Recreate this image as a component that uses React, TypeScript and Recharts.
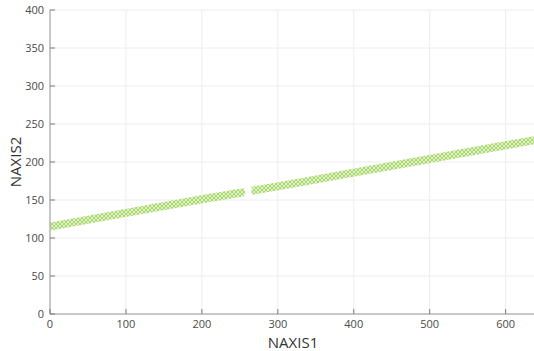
import React from 'react'
import {
  ComposedChart,
  Line,
  Scatter,
  XAxis,
  YAxis,
  CartesianGrid,
} from 'recharts'

// band of points, split around the small gap
const leftSegX = [0, 100, 200, 257]
const leftSegY = [115, 133, 151, 160.5]
const rightSegX = [265, 300, 400, 500, 600, 640]
const rightSegY = [162, 168, 186, 204, 222, 229]
const markX = [261]
const markY = [160.5]

const xTicks = [0, 100, 200, 300, 400, 500, 600]
const yTicks = [0, 50, 100, 150, 200, 250, 300, 350, 400]

const toRows = (xs: number[], ys: number[]) => xs.map((x, i) => ({ x, y: ys[i] }))
const leftSeg = toRows(leftSegX, leftSegY)
const rightSeg = toRows(rightSegX, rightSegY)
const marks = toRows(markX, markY)

const tickColor = '#7a7a7a'
const labelColor = '#4a4a4a'
const font = '"Open Sans", "Noto Sans", sans-serif'

const BottomTick = ({ x, y, payload }: any) => (
  <g>
    <line x1={x} y1={y} x2={x} y2={y - 5} stroke={tickColor} />
    <text x={x} y={y + 14} textAnchor="middle" fill={labelColor} fontSize={11} fontFamily={font}>
      {payload.value}
    </text>
  </g>
)

const TopTick = ({ x, y }: any) => (
  <line x1={x} y1={y} x2={x} y2={y + 5} stroke={tickColor} />
)

const LeftTick = ({ x, y, payload }: any) => (
  <g>
    <line x1={x} y1={y} x2={x + 5} y2={y} stroke={tickColor} />
    <text x={x - 6} y={y + 4} textAnchor="end" fill={labelColor} fontSize={11} fontFamily={font}>
      {payload.value}
    </text>
  </g>
)

const RightTick = ({ x, y }: any) => (
  <line x1={x} y1={y} x2={x - 5} y2={y} stroke={tickColor} />
)

const WhiteCross = ({ cx, cy }: any) => (
  <path
    d={`M${cx - 4},${cy - 4} L${cx + 4},${cy + 4} M${cx + 4},${cy - 4} L${cx - 4},${cy + 4}`}
    stroke="#ffffff"
    strokeWidth={1.5}
  />
)

export default function App() {
  return (
    <div
      style={{
        position: 'absolute',
        left: 0,
        top: 0,
        width: 534,
        height: 351,
        overflow: 'hidden',
        background: '#fff',
      }}
    >
      <ComposedChart width={536} height={351} margin={{ top: 10, right: 0, bottom: 0, left: 0 }}>
        <defs>
          <pattern id="xmarks" width="4" height="4" patternUnits="userSpaceOnUse">
            <rect width="4" height="4" fill="#e0f1ca" />
            <path d="M0,0 L4,4 M4,0 L0,4" stroke="#aad86e" strokeWidth={1} />
          </pattern>
        </defs>
        <CartesianGrid stroke="#ececec" />
        <XAxis
          type="number"
          dataKey="x"
          domain={[0, 640]}
          ticks={xTicks}
          height={37}
          tickSize={0}
          tickMargin={0}
          tickLine={false}
          stroke="#9a9a9a"
          tick={<BottomTick />}
          label={{
            value: 'NAXIS1',
            position: 'insideBottom',
            offset: 3,
            fill: '#333',
            fontSize: 15,
            fontFamily: font,
          }}
        />
        <XAxis
          xAxisId="top"
          orientation="top"
          type="number"
          dataKey="x"
          domain={[0, 640]}
          ticks={xTicks}
          height={0}
          tickSize={0}
          tickMargin={0}
          tickLine={false}
          stroke="#9a9a9a"
          tick={<TopTick />}
        />
        <YAxis
          type="number"
          domain={[0, 400]}
          ticks={yTicks}
          width={50}
          tickSize={0}
          tickMargin={0}
          tickLine={false}
          stroke="#9a9a9a"
          tick={<LeftTick />}
          label={{
            content: ({ viewBox }: any) => (
              <text
                x={15}
                y={viewBox.y + viewBox.height / 2}
                transform={`rotate(-90 15 ${viewBox.y + viewBox.height / 2})`}
                textAnchor="middle"
                dominantBaseline="central"
                fill="#333"
                fontSize={15}
                fontFamily={font}
              >
                NAXIS2
              </text>
            ),
          }}
        />
        <YAxis
          yAxisId="right"
          orientation="right"
          type="number"
          domain={[0, 400]}
          ticks={yTicks}
          width={0}
          tickSize={0}
          tickMargin={0}
          tickLine={false}
          stroke="#9a9a9a"
          tick={<RightTick />}
        />
        <Line
          data={leftSeg}
          dataKey="y"
          stroke="url(#xmarks)"
          strokeWidth={8}
          dot={false}
          activeDot={false}
          isAnimationActive={false}
        />
        <Line
          data={rightSeg}
          dataKey="y"
          stroke="url(#xmarks)"
          strokeWidth={8}
          dot={false}
          activeDot={false}
          isAnimationActive={false}
        />
        <Scatter data={marks} dataKey="y" shape={<WhiteCross />} isAnimationActive={false} />
      </ComposedChart>
    </div>
  )
}
